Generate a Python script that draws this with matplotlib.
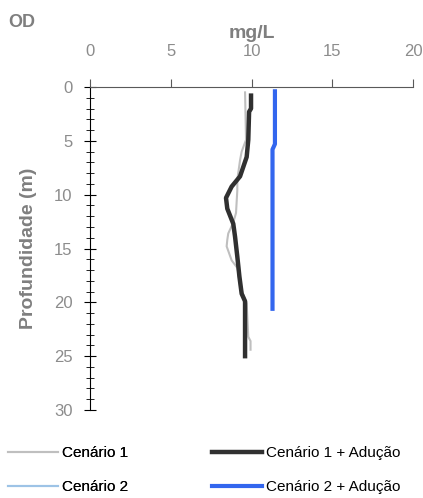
import matplotlib.pyplot as plt
from matplotlib.ticker import MultipleLocator

plt.rcParams["font.family"] = ["Liberation Sans", "DejaVu Sans"]

# Dissolved oxygen profiles (mg/L) against depth (m)
cen1_od = [9.6, 9.66, 9.39, 9.29, 9.12, 9.12, 9.04, 8.87, 8.56, 8.5, 8.46, 8.77, 9.12, 9.18, 9.29, 9.7, 9.8, 9.94, 9.94]
cen1_prof = [0.5, 4.9, 6.0, 6.8, 8.6, 9.6, 11.7, 12.6, 13.6, 14.2, 14.8, 16.1, 16.8, 17.2, 18.5, 20.1, 23.2, 23.6, 24.4]

cen1_adu_od = [9.97, 9.97, 9.85, 9.8, 9.7, 9.29, 8.77, 8.42, 8.5, 8.87, 8.98, 9.12, 9.18, 9.25, 9.39, 9.6, 9.6]
cen1_adu_prof = [0.8, 2.0, 2.3, 4.9, 6.5, 8.3, 9.25, 10.3, 11.3, 12.7, 13.9, 15.75, 16.6, 17.6, 19.2, 19.9, 25.0]

cen2_od = [11.45, 11.45, 11.3, 11.3]
cen2_prof = [0.4, 5.3, 5.8, 20.6]

cen2_adu_od = [11.45, 11.45, 11.3, 11.3]
cen2_adu_prof = [0.4, 5.3, 5.8, 20.6]

fig = plt.figure(figsize=(4.23, 4.98), dpi=100)
ax = fig.add_axes([0.2128, 0.1767, 0.7636, 0.6486])

l1, = ax.plot(cen1_od, cen1_prof, color="#bfbfbf", lw=1.5, label="Cenário 1")
l2, = ax.plot(cen2_od, cen2_prof, color="#9dc3e6", lw=1.5, label="Cenário 2")
l3, = ax.plot(cen1_adu_od, cen1_adu_prof, color="#303030", lw=3.2, label="Cenário 1 + Adução")
l4, = ax.plot(cen2_adu_od, cen2_adu_prof, color="#3366ee", lw=3, label="Cenário 2 + Adução")

ax.set_xlim(0, 20)
ax.set_ylim(30, 0)
ax.xaxis.set_major_locator(MultipleLocator(5))
ax.yaxis.set_major_locator(MultipleLocator(5))
ax.yaxis.set_minor_locator(MultipleLocator(1))
ax.xaxis.tick_top()

for side in ["right", "bottom"]:
    ax.spines[side].set_visible(False)
ax.spines["top"].set_color("#595959")
ax.spines["left"].set_color("black")

ax.tick_params(axis="x", which="major", direction="out", length=6, color="#595959",
               pad=14, labelsize=12, labelcolor="#8c8c8c")
ax.tick_params(axis="y", which="major", direction="inout", length=9, color="black",
               pad=8, labelsize=12, labelcolor="#8c8c8c")
ax.tick_params(axis="y", which="minor", direction="inout", length=6, color="black")

ax.set_ylabel("Profundidade (m)", fontsize=14, fontweight="bold", color="#7f7f7f", labelpad=12)
fig.text(0.596, 0.932, "mg/L", fontsize=14, fontweight="bold", color="#7f7f7f", ha="center", va="center")
fig.text(0.02, 0.955, "OD", fontsize=13, fontweight="bold", color="#7f7f7f", ha="left", va="center")

leg_kw = dict(loc="upper left", frameon=False, fontsize=11, handlelength=3.3,
              handletextpad=0.25, labelspacing=1.3, borderpad=0, borderaxespad=0)
fig.legend([l1, l2], ["Cenário 1", "Cenário 2"], bbox_to_anchor=(0.019, 0.104), **leg_kw)
fig.add_artist(fig.legends[-1])
fig.legend([l3, l4], ["Cenário 1 + Adução", "Cenário 2 + Adução"],
           bbox_to_anchor=(0.501, 0.104), **leg_kw)

fig.savefig("out.png", dpi=100)
